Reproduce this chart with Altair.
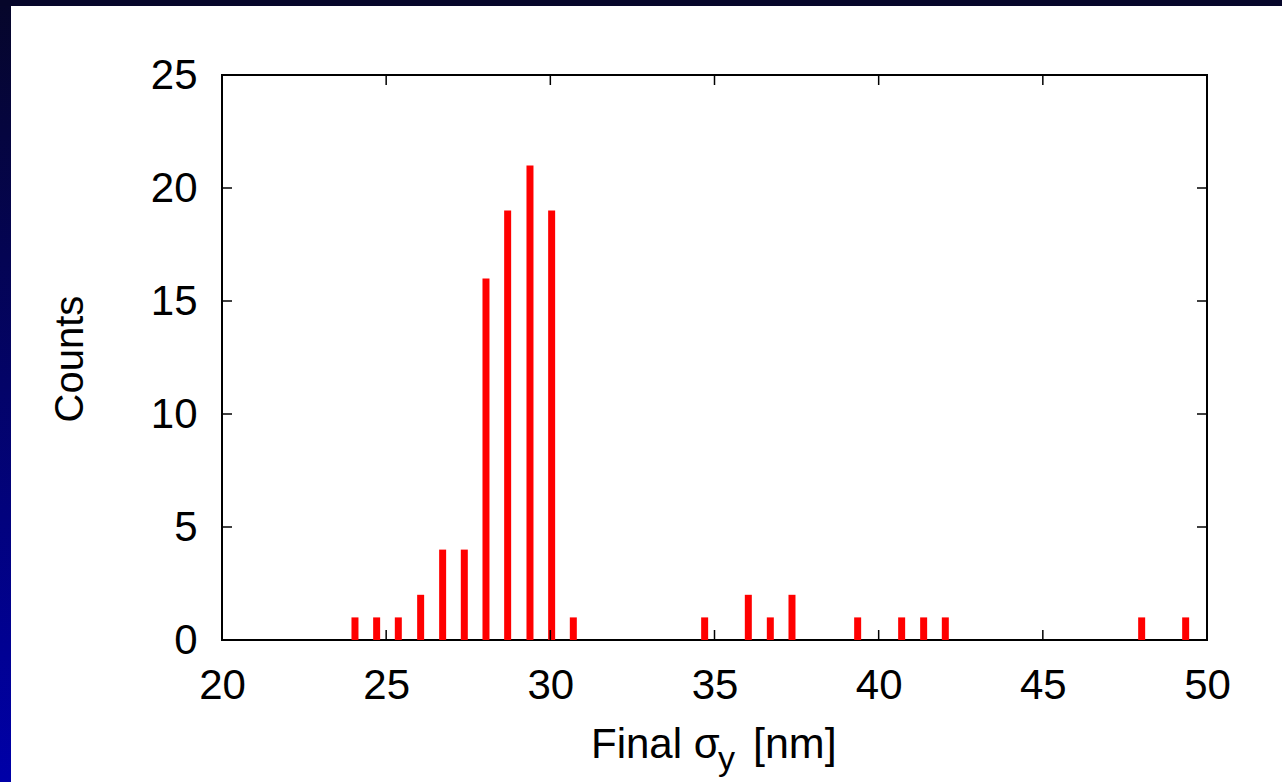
import altair as alt
import pandas as pd

# Histogram data
bin_centers = [24.05, 24.71, 25.37, 26.05, 26.72, 27.38, 28.04, 28.70, 29.38, 30.04, 30.70,
               34.70, 36.03, 36.70, 37.36, 39.36, 40.70, 41.37, 42.03, 48.01, 49.35]
counts = [1, 1, 1, 2, 4, 4, 16, 19, 21, 19, 1,
          1, 2, 1, 2, 1, 1, 1, 1, 1, 1]
x_ticks = [20, 25, 30, 35, 40, 45, 50]
y_ticks = [0, 5, 10, 15, 20, 25]

W, H = 985, 565
FONT = "Liberation Sans"
FS = 42

bars_df = pd.DataFrame({"sigma": bin_centers, "count": counts})
xt_df = pd.DataFrame({"t": x_ticks})
yt_df = pd.DataFrame({"t": y_ticks})

xscale = alt.Scale(domain=[20, 50], nice=False, zero=False, padding=0)
yscale = alt.Scale(domain=[0, 25], nice=False, padding=0)

bars = alt.Chart(bars_df).mark_bar(size=7, color="#ff0000").encode(
    x=alt.X("sigma:Q", scale=xscale,
            axis=alt.Axis(values=x_ticks, title=None, ticks=False, domain=False, grid=False,
                          labelFont=FONT, labelFontSize=FS, labelColor="black",
                          labelPadding=25, labelFlush=False, labelOverlap=False)),
    y=alt.Y("count:Q", scale=yscale,
            axis=alt.Axis(values=y_ticks, title=None, ticks=False, domain=False, grid=False,
                          labelFont=FONT, labelFontSize=FS, labelColor="black",
                          labelPadding=25, labelFlush=False, labelOverlap=False)),
)

tick_style = dict(color="black", strokeWidth=1.5)
bottom_ticks = alt.Chart(xt_df).mark_rule(**tick_style).encode(
    x=alt.X("t:Q", scale=xscale), y=alt.value(H), y2=alt.value(H - 10))
top_ticks = alt.Chart(xt_df).mark_rule(**tick_style).encode(
    x=alt.X("t:Q", scale=xscale), y=alt.value(0), y2=alt.value(10))
left_ticks = alt.Chart(yt_df).mark_rule(**tick_style).encode(
    y=alt.Y("t:Q", scale=yscale), x=alt.value(0), x2=alt.value(10))
right_ticks = alt.Chart(yt_df).mark_rule(**tick_style).encode(
    y=alt.Y("t:Q", scale=yscale), x=alt.value(W), x2=alt.value(W - 10))

# Decorative slide border (dark blue gradient bands)
grad_v = alt.Gradient(gradient="linear",
                      stops=[alt.GradientStop(color="#06062a", offset=0),
                             alt.GradientStop(color="#0000a8", offset=1)],
                      x1=0, x2=0, y1=0, y2=1)
left_band = alt.Chart().mark_rect(fill=grad_v).encode(
    x=alt.value(-222), x2=alt.value(-211), y=alt.value(-75), y2=alt.value(707))
top_band = alt.Chart().mark_rect(fill="#06062a").encode(
    x=alt.value(-222), x2=alt.value(1060), y=alt.value(-75), y2=alt.value(-69))

# Axis titles
ytitle = alt.Chart().mark_text(text="Counts", font=FONT, fontSize=40, angle=270,
                               align="center", baseline="middle", color="black").encode(
    x=alt.value(-151), y=alt.value(284))
xt1 = alt.Chart().mark_text(text="Final σ", font=FONT, fontSize=FS, align="left",
                            baseline="alphabetic", color="black").encode(
    x=alt.value(369), y=alt.value(683))
xt2 = alt.Chart().mark_text(text="y", font=FONT, fontSize=34, align="left",
                            baseline="alphabetic", color="black").encode(
    x=alt.value(496), y=alt.value(695))
xt3 = alt.Chart().mark_text(text="[nm]", font=FONT, fontSize=43, align="left",
                            baseline="alphabetic", color="black").encode(
    x=alt.value(531), y=alt.value(683))

chart = alt.layer(
    left_band, top_band, bars, bottom_ticks, top_ticks, left_ticks, right_ticks,
    ytitle, xt1, xt2, xt3
).properties(
    width=W, height=H,
    autosize=alt.AutoSizeParams(type="none"),
    padding={"left": 222, "top": 75, "right": 75, "bottom": 142},
    background="white",
).configure_view(stroke="black", strokeWidth=2)

chart.save("out.html", embed_options={"renderer": "svg", "actions": False})
